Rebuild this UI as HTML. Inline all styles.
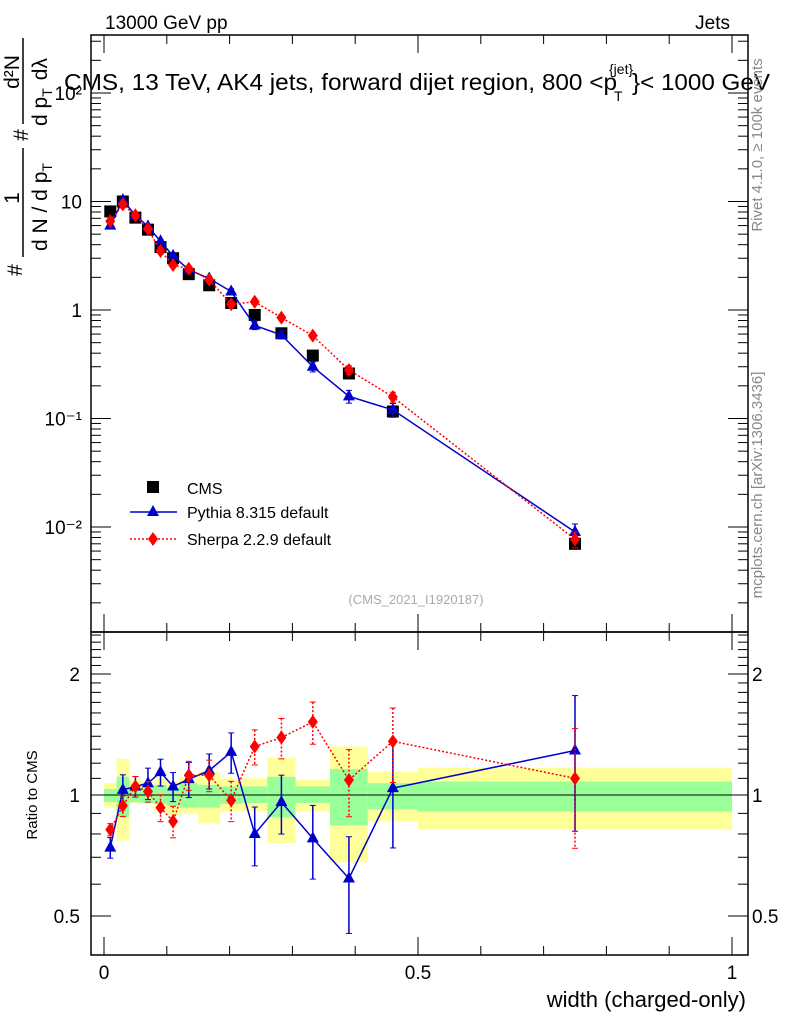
<!DOCTYPE html>
<html><head><meta charset="utf-8"><style>
body{margin:0;background:#fff;}
svg{display:block;font-family:"Liberation Sans",sans-serif;}
</style></head><body>
<svg id="chart" width="786" height="1024" viewBox="0 0 786 1024">
<g id="bands"></g><g id="grid"></g><g id="marks"></g>
<text x="105" y="29" font-size="19">13000 GeV pp</text>
<text x="730" y="29" font-size="19" text-anchor="end">Jets</text>
<g>
<text x="64" y="90" font-size="23" textLength="553" lengthAdjust="spacingAndGlyphs">CMS, 13 TeV, AK4 jets, forward dijet region, 800 &lt;p</text>
<text x="614" y="101" font-size="14">T</text>
<text x="609" y="74" font-size="14">{jet}</text>
<text x="632" y="90" font-size="23" textLength="138" lengthAdjust="spacingAndGlyphs">}&lt; 1000 GeV</text>
</g>
<g font-size="21">
<text transform="translate(22,270) rotate(-90)" text-anchor="middle">#</text>
<text transform="translate(19,198) rotate(-90)" text-anchor="middle">1</text>
<line x1="23" y1="257" x2="23" y2="148" stroke="#000" stroke-width="1.5"/>
<text transform="translate(47,251) rotate(-90)">d N / d p<tspan font-size="14" dy="5">T</tspan></text>
<text transform="translate(28,135) rotate(-90)" text-anchor="middle">#</text>
<line x1="23" y1="124" x2="23" y2="38" stroke="#000" stroke-width="1.5"/>
<text transform="translate(47,126) rotate(-90)">d p<tspan font-size="14" dy="5">T</tspan><tspan dx="8" dy="-5">d</tspan>λ</text>
<text transform="translate(19,72) rotate(-90)" text-anchor="middle">d²N</text>
</g>
<text transform="translate(762,145) rotate(-90)" font-size="15" fill="#888" text-anchor="middle">Rivet 4.1.0, ≥ 100k events</text>
<text transform="translate(762,485) rotate(-90)" font-size="15" fill="#888" text-anchor="middle">mcplots.cern.ch [arXiv:1306.3436]</text>
<text x="416" y="604" font-size="13" fill="#aaa" text-anchor="middle">(CMS_2021_I1920187)</text>
<text transform="translate(37,795) rotate(-90)" font-size="15" text-anchor="middle">Ratio to CMS</text>
<text x="746" y="1007" font-size="22" text-anchor="end">width (charged-only)</text>
<g font-size="16">
<rect x="147" y="481" width="12" height="12" fill="#000"/>
<text x="187" y="494">CMS</text>
<line x1="130" y1="512" x2="177" y2="512" stroke="#00c" stroke-width="1.5"/>
<polygon points="153,505 159,516 147,516" fill="#00c"/>
<text x="187" y="518">Pythia 8.315 default</text>
<line x1="130" y1="539" x2="177" y2="539" stroke="red" stroke-width="1.5" stroke-dasharray="2,2"/>
<polygon points="153,532 158,539 153,546 148,539" fill="red"/>
<text x="187" y="545">Sherpa 2.2.9 default</text>
</g>
<rect x="91" y="35" width="657" height="597" fill="none" stroke="#000" stroke-width="1.5"/>
<rect x="91" y="632" width="657" height="323" fill="none" stroke="#000" stroke-width="1.5"/>
</svg>
<script>
const xs=[0.01,0.03,0.05,0.07,0.09,0.11,0.135,0.1675,0.2025,0.24,0.2825,0.3325,0.39,0.46,0.75];
const edges=[0,0.02,0.04,0.06,0.08,0.1,0.12,0.15,0.185,0.22,0.26,0.305,0.36,0.42,0.5,1.0];
const cms=[8.1,10,7.1,5.5,3.8,3.0,2.14,1.69,1.16,0.9,0.61,0.38,0.26,0.116,0.007];
const pythia=[6.0,10.3,7.45,5.9,4.3,3.15,2.35,1.95,1.48,0.72,0.59,0.30,0.16,0.12,0.009];
const sherpa=[6.6,9.4,7.45,5.6,3.5,2.6,2.4,1.9,1.13,1.19,0.85,0.58,0.28,0.158,0.0077];
const pyRatio=[0.74,1.03,1.05,1.07,1.14,1.05,1.095,1.15,1.28,0.80,0.96,0.78,0.62,1.04,1.29];
const pyErr=[0.059,0.09,0.059,0.09,0.077,0.083,0.10,0.10,0.115,0.167,0.167,0.208,0.27,0.29,0.37];
const shRatio=[0.82,0.94,1.05,1.02,0.93,0.86,1.12,1.12,0.97,1.32,1.39,1.52,1.09,1.36,1.10];
const shErr=[0.035,0.059,0.059,0.059,0.077,0.09,0.083,0.09,0.115,0.10,0.115,0.12,0.19,0.21,0.33];
const yelHi=[1.07,1.23,1.09,1.08,1.10,1.08,1.11,1.14,1.10,1.10,1.24,1.09,1.32,1.14,1.17];
const yelLo=[0.93,0.77,0.955,0.95,0.91,0.89,0.90,0.85,0.91,0.91,0.76,0.91,0.68,0.86,0.82];
const grnHi=[1.035,1.11,1.05,1.05,1.06,1.04,1.07,1.06,1.05,1.05,1.11,1.05,1.16,1.07,1.08];
const grnLo=[0.96,0.88,0.96,0.955,0.95,0.94,0.93,0.93,0.95,0.955,0.88,0.955,0.84,0.92,0.91];
const mainTicks=["10⁻²","10⁻¹","1","10","10²"];
const ratioTicks=[0.5,1,2];
const xTicks=[0,0.5,1];
const NS="http://www.w3.org/2000/svg";
const X=v=>104+v*628;
const Y=v=>310-Math.log10(v)*108.5;
const R=v=>795-Math.log10(v)*402;
function mk(tag,at,parent){const e=document.createElementNS(NS,tag);for(const k in at)e.setAttribute(k,at[k]);parent.appendChild(e);return e;}
const bands=document.getElementById('bands'),grid=document.getElementById('grid'),marks=document.getElementById('marks');
for(let i=0;i<yelHi.length;i++){
 const x0=X(edges[i]),x1=X(edges[i+1]);
 let r=mk('rect',{x:x0,y:R(yelHi[i]),width:x1-x0,height:R(yelLo[i])-R(yelHi[i]),fill:'#ffff99'},bands);
 
 
 r=mk('rect',{x:x0,y:R(grnHi[i]),width:x1-x0,height:R(grnLo[i])-R(grnHi[i]),fill:'#99ff99'},bands);
 
 
}
mk('line',{x1:91,x2:748,y1:R(1),y2:R(1),stroke:'#000','stroke-width':1},bands);
for(let d=-3;d<=2;d++){for(let m=1;m<10;m++){const v=m*Math.pow(10,d);const y=Y(v);if(y<35||y>632)continue;const L=m==1?20:10;
 mk('line',{x1:91,x2:91+L,y1:y,y2:y,stroke:'#000'},grid);mk('line',{x1:748,x2:748-L,y1:y,y2:y,stroke:'#000'},grid);}}
mainTicks.forEach((t,i)=>{const y=Y(Math.pow(10,i-2));const e=mk('text',{x:82,y:y+7,'font-size':19,'text-anchor':'end'},grid);e.textContent=t;
 
 });
for(let m=4;m<=25;m++){const v=m/10;const y=R(v);if(y<632||y>955)continue;const L=(m==5||m==10||m==20)?20:10;
 mk('line',{x1:91,x2:91+L,y1:y,y2:y,stroke:'#000'},grid);mk('line',{x1:748,x2:748-L,y1:y,y2:y,stroke:'#000'},grid);}
ratioTicks.forEach(t=>{const y=R(t);
 let e=mk('text',{x:80,y:y+7,'font-size':19,'text-anchor':'end'},grid);e.textContent=t;
 
 
 e=mk('text',{x:752,y:y+7,'font-size':19},grid);e.textContent=t;
 
 });
for(let k=0;k<=10;k++){const x=X(k/10);const L=k%5==0?18:9;
 [[35,1],[632,-1],[632,1],[955,-1]].forEach(([y,s])=>mk('line',{x1:x,x2:x,y1:y,y2:y+s*L,stroke:'#000'},grid));}
xTicks.forEach(t=>{const e=mk('text',{x:X(t),y:979,'font-size':19,'text-anchor':'middle'},grid);e.textContent=t;
 
 });
function series(vals,f,color,dash,shape,name,errs){
 const pts=vals.map((v,i)=>[X(xs[i]),f(v)]);
 const pl=mk('polyline',{points:pts.map(p=>p.join(',')).join(' '),fill:'none',stroke:color,'stroke-width':1.5},marks);
 if(dash)pl.setAttribute('stroke-dasharray',dash);
 
 
 pts.forEach(([x,y],i)=>{
  if(errs){const y1=f(vals[i]*(1+errs[i])),y2=f(vals[i]*(1-errs[i]));
   const l=mk('line',{x1:x,x2:x,y1:y1,y2:y2,stroke:color,'stroke-width':1.5},marks);if(dash)l.setAttribute('stroke-dasharray',dash);
   mk('line',{x1:x-3,x2:x+3,y1:y1,y2:y1,stroke:color},marks);mk('line',{x1:x-3,x2:x+3,y1:y2,y2:y2,stroke:color},marks);}
  let e;
  if(shape=='tri')e=mk('polygon',{points:`${x},${y-7} ${x+6},${y+4} ${x-6},${y+4}`,fill:color},marks);
  else if(shape=='dia')e=mk('polygon',{points:`${x},${y-7} ${x+5},${y} ${x},${y+7} ${x-5},${y}`,fill:color},marks);
  else e=mk('rect',{x:x-6,y:y-6,width:12,height:12,fill:color},marks);
  
  
 });
}
cms.forEach((v,i)=>{const e=mk('rect',{x:X(xs[i])-6,y:Y(v)-6,width:12,height:12,fill:'#000'},marks);
 
 });
series(pythia,Y,'#00c',null,'tri','pythia-main',pyErr.map(e=>e*0.5));
series(sherpa,Y,'red','2,2','dia','sherpa-main',shErr.map(e=>e*0.5));
series(pyRatio,R,'#00c',null,'tri','pythia-ratio',pyErr);
series(shRatio,R,'red','2,2','dia','sherpa-ratio',shErr);
</script>
</body></html>
